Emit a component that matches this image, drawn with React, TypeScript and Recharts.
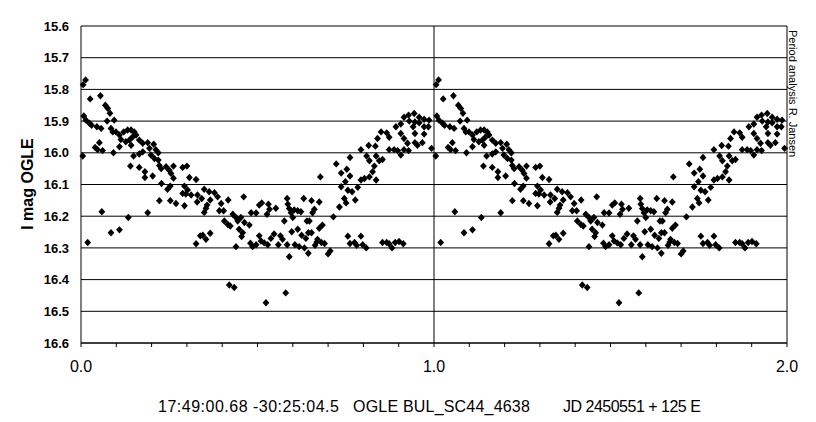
import { ScatterChart, Scatter, XAxis, YAxis, CartesianGrid, ReferenceLine } from 'recharts';

// one cycle of OGLE I-band photometry folded on the period: [phase, I mag]
const observations: [number, number][] = [
  [0.006, 15.785], [0.013, 15.77], [0.026, 15.83], [0.055, 15.82], [0.069, 15.85], [0.076, 15.86], [0.082, 15.875],
  [0.008, 15.884], [0.014, 15.897], [0.024, 15.907], [0.030, 15.913], [0.045, 15.918], [0.057, 15.923],
  [0.074, 15.90], [0.094, 15.897], [0.085, 15.923], [0.09, 15.934], [0.099, 15.934], [0.109, 15.944], [0.113, 15.958],
  [0.121, 15.934], [0.132, 15.928], [0.142, 15.928], [0.151, 15.934], [0.156, 15.944], [0.146, 15.95], [0.127, 15.965],
  [0.137, 15.96], [0.142, 15.976], [0.109, 15.981], [0.052, 15.968], [0.040, 15.983], [0.047, 15.99], [0.061, 15.993],
  [0.005, 16.01], [0.092, 16.00], [0.165, 15.96], [0.175, 15.97], [0.189, 15.968], [0.206, 15.973], [0.194, 15.986],
  [0.175, 15.997], [0.165, 16.004], [0.149, 16.01], [0.198, 16.007], [0.212, 15.99], [0.219, 16.00], [0.208, 16.018],
  [0.219, 16.023], [0.222, 16.04], [0.227, 16.05], [0.241, 16.044], [0.25, 16.055], [0.262, 16.042], [0.288, 16.046],
  [0.30, 16.042], [0.140, 16.042], [0.165, 16.046], [0.181, 16.06], [0.181, 16.078], [0.203, 16.073], [0.255, 16.065],
  [0.262, 16.08], [0.228, 16.097], [0.253, 16.105], [0.245, 16.115], [0.307, 16.078], [0.326, 16.084], [0.293, 16.105],
  [0.302, 16.117], [0.288, 16.128], [0.297, 16.13], [0.312, 16.133], [0.329, 16.155], [0.222, 16.151], [0.253, 16.151],
  [0.269, 16.16], [0.293, 16.167], [0.059, 16.186], [0.134, 16.204], [0.189, 16.189], [0.085, 16.252], [0.109, 16.243],
  [0.019, 16.283], [0.326, 16.287], [0.338, 16.262],
  [0.330, 16.133], [0.342, 16.144], [0.349, 16.115], [0.363, 16.123], [0.378, 16.126], [0.357, 16.165], [0.366, 16.149],
  [0.387, 16.139], [0.397, 16.16], [0.417, 16.149], [0.461, 16.139], [0.354, 16.175], [0.349, 16.188], [0.392, 16.183],
  [0.404, 16.183], [0.406, 16.215], [0.416, 16.226], [0.423, 16.231], [0.430, 16.194], [0.439, 16.204], [0.444, 16.215],
  [0.453, 16.204], [0.463, 16.22], [0.477, 16.228], [0.448, 16.241], [0.458, 16.252], [0.455, 16.264], [0.345, 16.26],
  [0.354, 16.273], [0.366, 16.254], [0.439, 16.296], [0.482, 16.189], [0.496, 16.19], [0.505, 16.165], [0.512, 16.158],
  [0.531, 16.162], [0.534, 16.178], [0.527, 16.194], [0.552, 16.175], [0.48, 16.285], [0.486, 16.296], [0.496, 16.29],
  [0.505, 16.262], [0.51, 16.278], [0.519, 16.284], [0.529, 16.29], [0.538, 16.27], [0.547, 16.256], [0.559, 16.29],
  [0.565, 16.262], [0.571, 16.273], [0.584, 16.29], [0.59, 16.328], [0.584, 16.144], [0.586, 16.162], [0.59, 16.176],
  [0.595, 16.189], [0.604, 16.18], [0.614, 16.183], [0.623, 16.186], [0.60, 16.204], [0.576, 16.215], [0.631, 16.144],
  [0.653, 16.151], [0.661, 16.178], [0.656, 16.189], [0.640, 16.215], [0.647, 16.215], [0.597, 16.249], [0.614, 16.241],
  [0.625, 16.26], [0.637, 16.27], [0.644, 16.252], [0.653, 16.252], [0.67, 16.273], [0.663, 16.292], [0.606, 16.29],
  [0.618, 16.296], [0.633, 16.30], [0.644, 16.317], [0.678, 16.076], [0.675, 16.155], [0.675, 16.238], [0.42, 16.417],
  [0.434, 16.425], [0.524, 16.473], [0.58, 16.442],
  [0.684, 16.228], [0.668, 16.281], [0.681, 16.283], [0.69, 16.286], [0.70, 16.319], [0.706, 16.31], [0.715, 16.202],
  [0.723, 16.035], [0.732, 16.171], [0.737, 16.107], [0.737, 16.064], [0.749, 16.091], [0.753, 16.052], [0.762, 16.073],
  [0.746, 16.144], [0.751, 16.158], [0.756, 16.118], [0.768, 16.123], [0.777, 16.149], [0.784, 16.109], [0.793, 16.086],
  [0.803, 16.081], [0.817, 16.076], [0.826, 16.06], [0.836, 16.086], [0.831, 16.042], [0.762, 16.015], [0.793, 15.99],
  [0.815, 15.977], [0.834, 15.979], [0.809, 16.01], [0.817, 16.025], [0.836, 16.01], [0.845, 16.025], [0.854, 16.021],
  [0.84, 15.955], [0.85, 15.934], [0.866, 15.937], [0.873, 15.951], [0.873, 15.99], [0.887, 15.99], [0.897, 15.993],
  [0.906, 16.007], [0.915, 15.99], [0.928, 15.993], [0.953, 15.976], [0.967, 15.968], [0.946, 15.968], [0.892, 15.918],
  [0.906, 15.909], [0.915, 15.888], [0.928, 15.881], [0.944, 15.876], [0.958, 15.888], [0.972, 15.894], [0.986, 15.897],
  [0.93, 15.90], [0.946, 15.903], [0.941, 15.918], [0.958, 15.905], [0.972, 15.918], [0.984, 15.918], [0.906, 15.939],
  [0.915, 15.955], [0.925, 15.97], [0.946, 15.939], [0.972, 15.941], [0.993, 15.986],
  [0.756, 16.263], [0.762, 16.286], [0.775, 16.283], [0.781, 16.292], [0.793, 16.263], [0.798, 16.29], [0.808, 16.30],
  [0.854, 16.283], [0.866, 16.283], [0.873, 16.287], [0.881, 16.30], [0.89, 16.283], [0.901, 16.28], [0.913, 16.287],
];

// the curve is drawn over two cycles
const cycles = [0, 1];

const xTicks = [0, 0.1, 0.2, 0.3, 0.4, 0.5, 0.6, 0.7, 0.8, 0.9, 1, 1.1, 1.2, 1.3, 1.4, 1.5, 1.6, 1.7, 1.8, 1.9, 2];
const xLabelled = [0, 1, 2];
const yTicks = [15.6, 15.7, 15.8, 15.9, 16.0, 16.1, 16.2, 16.3, 16.4, 16.5, 16.6];

const starName = '17:49:00.68 -30:25:04.5';
const fieldName = 'OGLE BUL_SC44_4638';
const ephemeris = 'JD 2450551 + 125 E';

const FONT = 'Arial, "Liberation Sans", sans-serif';

const Diamond = (props: any) => {
  const { cx, cy } = props;
  if (cx == null || cy == null) return null;
  return <path d={`M${cx},${cy - 3.7}L${cx + 3.4},${cy}L${cx},${cy + 3.7}L${cx - 3.4},${cy}Z`} fill="#000" />;
};

const XTick = (props: any) => {
  const { x, y, payload } = props;
  if (!xLabelled.some((v) => Math.abs(v - payload.value) < 1e-6)) return null;
  return (
    <text x={x} y={y} dy={22.7} textAnchor="middle" fontSize={16} fontFamily={FONT} fill="#000">
      {payload.value.toFixed(1)}
    </text>
  );
};

const footStyle = { position: 'absolute' as const, top: 399, fontSize: 16, lineHeight: '16px', whiteSpace: 'nowrap' as const };

export default function App() {
  const data = cycles.flatMap((c) => observations.map(([phase, mag]) => ({ phase: phase + c, mag })));

  return (
    <div style={{ position: 'absolute', left: 0, top: 0, width: 816, height: 422, background: '#fff', fontFamily: FONT }}>
      <ScatterChart width={816} height={422} margin={{ top: 26, right: 29, bottom: 0, left: 0 }}>
        <CartesianGrid vertical={false} stroke="#000" strokeWidth={1} />
        <XAxis
          type="number"
          dataKey="phase"
          domain={[0, 2]}
          ticks={xTicks}
          interval={0}
          height={79}
          tickSize={4}
          tick={<XTick />}
          axisLine={{ stroke: '#000' }}
          tickLine={{ stroke: '#000' }}
        />
        <YAxis
          type="number"
          dataKey="mag"
          domain={[15.6, 16.6]}
          reversed
          ticks={yTicks}
          interval={0}
          width={81}
          tickLine={false}
          tickSize={0}
          tickMargin={12}
          tickFormatter={(v: number) => v.toFixed(1)}
          tick={{ fontSize: 13, fontWeight: 'bold', fill: '#000', fontFamily: FONT }}
          axisLine={{ stroke: '#000' }}
        />
        <ReferenceLine x={1} stroke="#000" strokeWidth={1} />
        <ReferenceLine x={2} stroke="#000" strokeWidth={1} />
        <Scatter data={data} fill="#000" shape={<Diamond />} isAnimationActive={false} />
      </ScatterChart>

      <div
        style={{
          position: 'absolute', left: 28, top: 184, transform: 'translate(-50%, -50%) rotate(-90deg)',
          fontSize: 16, fontWeight: 'bold', whiteSpace: 'nowrap', lineHeight: '16px',
        }}
      >
        I mag OGLE
      </div>

      <div
        style={{
          position: 'absolute', left: 787, top: 30, width: 12, writingMode: 'vertical-rl',
          fontSize: 11, lineHeight: '12px', whiteSpace: 'nowrap',
        }}
      >
        Period analysis R. Jansen
      </div>

      <div style={{ ...footStyle, left: 158, letterSpacing: 0.5 }}>{starName}</div>
      <div style={{ ...footStyle, left: 353, letterSpacing: 0.2 }}>{fieldName}</div>
      <div style={{ ...footStyle, left: 563, letterSpacing: -0.5 }}>{ephemeris}</div>
    </div>
  );
}
